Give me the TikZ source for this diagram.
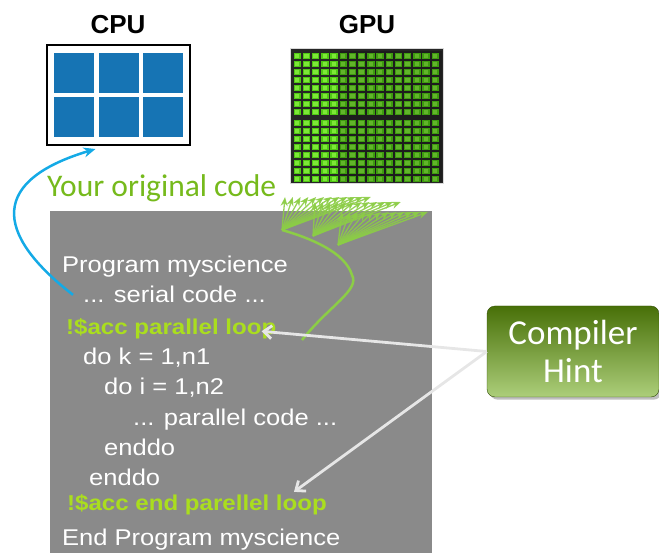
\documentclass[tikz,border=0pt]{standalone}
\usepackage{fontspec}
\setmainfont{Liberation Sans}
\newfontfamily\codefont[FakeStretch=1.12]{Liberation Sans}
\newfontfamily\calib{Carlito}
\usetikzlibrary{arrows.meta,shadows}

\definecolor{cpublue}{RGB}{22,116,180}
\definecolor{codegray}{RGB}{138,138,138}
\definecolor{accgreen}{RGB}{170,222,30}
\definecolor{nvgreen}{RGB}{118,186,28}
\definecolor{fangreen}{RGB}{140,205,70}
\definecolor{arrowblue}{RGB}{20,170,230}
\definecolor{hintdark}{RGB}{72,112,8}
\definecolor{hintlight}{RGB}{172,206,122}
\definecolor{chipgreen}{RGB}{80,200,20}
\definecolor{chiplight}{RGB}{125,232,55}
\definecolor{hintline}{RGB}{230,230,230}

\tikzset{
  codeline/.style={anchor=base west, text=white, inner sep=0pt, font=\codefont\fontsize{22.8}{26}\selectfont},
  accline/.style={codeline, text=accgreen, font=\codefont\fontsize{21.5}{26}\selectfont\bfseries},
  chiplabel/.style={font=\fontsize{26}{30}\selectfont\bfseries},
  hintarrow/.style={draw=hintline, line width=2.8pt, -{Straight Barb[length=8pt,width=13pt]}},
}

\begin{document}
\begin{tikzpicture}[x=1pt,y=-1pt]
  \useasboundingbox (0,0) rectangle (659,553);

  % CPU
  \node[chiplabel] (cpulabel) at (118,25) {CPU};
  \node[draw, line width=2pt, minimum width=143pt, minimum height=100pt] (cpu) at (118.5,95) {};
  \foreach \i in {0,1,2}
    \foreach \j in {0,1}
      \fill[cpublue] ({54+44.5*\i},{53+44*\j}) rectangle ++(40,40);

  % GPU
  \node[chiplabel] (gpulabel) at (367,25) {GPU};
  \node[draw=black!15, line width=1.5pt, fill=black!85, minimum width=153pt, minimum height=135pt] (gpu) at (367,116) {};
  \foreach \i in {0,...,15}
    \foreach \j in {0,...,7} {
      \fill[chipgreen] ({293.5+9.2*\i},{53+8*\j}) rectangle ++(7.4,6.4);
      \fill[chiplight] ({295+9.2*\i},{54.5+8*\j}) rectangle ++(4.4,3.4);
      \fill[chipgreen] ({293.5+9.2*\i},{120+8*\j}) rectangle ++(7.4,6.4);
      \fill[chiplight] ({295+9.2*\i},{121.5+8*\j}) rectangle ++(4.4,3.4);
    }
  \fill[black, opacity=0.22] (340,51) rectangle (442,182);

  \node[text=nvgreen, font=\calib\fontsize{31.5}{34}\selectfont, anchor=base west, inner sep=0pt] (orig) at (47,197) {Your original code};

  % code
  \node[fill=codegray, minimum width=382pt, minimum height=342pt, anchor=north west, inner sep=0pt] (codebox) at (50,211) {};
  \node[codeline] (prog) at (62,273) {Program myscience};
  \node[codeline] (serial) at (83,303) {... serial code ...};
  \node[accline] (acc1) at (66,335) {!\$acc parallel loop};
  \node[codeline] (dok) at (83,365) {do k = 1,n1};
  \node[codeline] (doi) at (104,395) {do i = 1,n2};
  \node[codeline] (par) at (133,425) {... parallel code ...};
  \node[codeline] (endi) at (104,455) {enddo};
  \node[codeline] (endk) at (89,485) {enddo};
  \node[accline] (accend) at (67,510) {!\$acc end parellel loop};
  \node[codeline] (endprog) at (62,545) {End Program myscience};

  \draw[arrowblue, line width=2.5pt, -{Stealth[length=12pt,width=10pt]}] ([xshift=-10pt]serial.west) .. controls (-8,232) and (-8,180) .. ([xshift=-23pt,yshift=-3pt]cpu.south);

  % gpu fan
  \coordinate (fanA) at (282,230);
  \coordinate (gstart) at (302,340);
  \draw[fangreen, line width=2.5pt] (gstart) .. controls (330,305) and (360,290) .. (352,275) .. controls (345,252) and (310,238) .. (fanA);
  \foreach \ox/\oy/\tx/\ty in {282/230/285/197, 313/236/315/202, 338/245/342/212}
    \foreach \k in {0,...,11}
      \draw[fangreen, opacity=0.9, line width=1.3pt, -{Stealth[length=9pt,width=7pt]}] (\ox,\oy) -- ({\tx+7.8*\k},\ty);

  % hint
  \node[rounded corners=8pt, top color=hintdark, bottom color=hintlight, draw=hintdark!70!black, minimum width=172pt, minimum height=91pt, text=white, align=center, font=\calib\fontsize{35}{38}\selectfont, drop shadow] (hint) at (573,351.5) {Compiler\\Hint};
  \draw[hintarrow] (hint.west) -- ([xshift=-15pt,yshift=-2pt]acc1.east);
  \draw[hintarrow] (hint.west) -- ([xshift=-33pt,yshift=2pt]accend.north east);
\end{tikzpicture}
\end{document}
